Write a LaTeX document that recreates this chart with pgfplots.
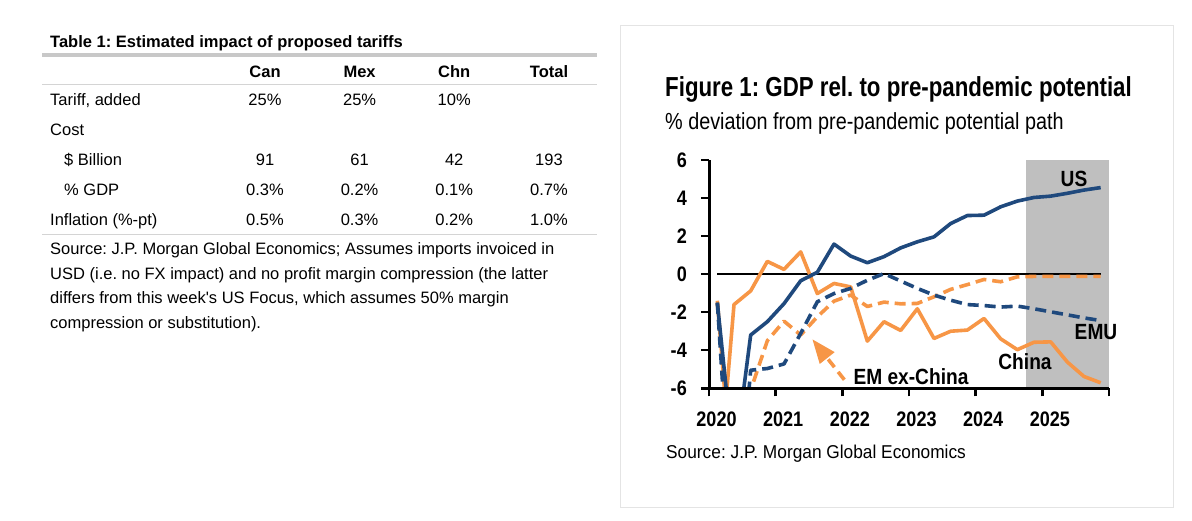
\documentclass[border=0pt]{standalone}
\usepackage{fontspec}
\setmainfont{Liberation Sans}
\newfontfamily\chartfont[FakeStretch=0.93]{Liberation Sans}
\newfontfamily\tickfont[FakeStretch=0.86]{Liberation Sans}
\newfontfamily\labfont[FakeStretch=0.87]{Liberation Sans}
\newfontfamily\titlefont[FakeStretch=0.81]{Liberation Sans}
\newfontfamily\subfont[FakeStretch=0.85]{Liberation Sans}
\usepackage{pgfplots}
\pgfplotsset{compat=1.18}
\usetikzlibrary{arrows.meta}
\definecolor{jpblue}{RGB}{31,73,125}
\definecolor{jporange}{RGB}{247,150,70}
\definecolor{shadegray}{RGB}{191,191,191}
\definecolor{rulegray}{RGB}{200,200,200}
\definecolor{thingray}{RGB}{212,212,212}
\definecolor{boxgray}{RGB}{228,228,228}
\newcommand{\fs}[1]{\fontsize{#1}{#1}\selectfont}
\frenchspacing
\begin{document}
\frenchspacing
\begin{tikzpicture}
\useasboundingbox (0pt,0pt) rectangle (1192pt,-521pt);
\fill[white] (0pt,0pt) rectangle (1192pt,-521pt);
% ---------------- table ----------------
\node[anchor=base west, inner sep=0pt, font=\bfseries\fs{16.5}] at (50pt,-47.3pt) {Table 1: Estimated impact of proposed tariffs};
\draw[rulegray, line width=3.3pt] (42pt,-55pt) -- (597pt,-55pt);
\draw[thingray, line width=1pt] (42pt,-85pt) -- (597pt,-85pt);
\draw[thingray, line width=1pt] (42pt,-235pt) -- (597pt,-235pt);
\begin{scope}[every node/.style={anchor=base, inner sep=0pt, font=\fs{16.5}}]
\node[font=\bfseries\fs{16.5}] at (265pt,-77.3pt) {Can};
\node[font=\bfseries\fs{16.5}] at (359.6pt,-77.3pt) {Mex};
\node[font=\bfseries\fs{16.5}] at (454.2pt,-77.3pt) {Chn};
\node[font=\bfseries\fs{16.5}] at (549pt,-77.3pt) {Total};
\node[anchor=base west] at (50pt,-106pt) {Tariff, added};
\node at (265pt,-106pt) {25\%};
\node at (359.6pt,-106pt) {25\%};
\node at (454.2pt,-106pt) {10\%};
\node[anchor=base west] at (50pt,-136pt) {Cost};
\node[anchor=base west] at (64pt,-166pt) {\$ Billion};
\node at (265pt,-166pt) {91};
\node at (359.6pt,-166pt) {61};
\node at (454.2pt,-166pt) {42};
\node at (549pt,-166pt) {193};
\node[anchor=base west] at (64pt,-196pt) {\% GDP};
\node at (265pt,-196pt) {0.3\%};
\node at (359.6pt,-196pt) {0.2\%};
\node at (454.2pt,-196pt) {0.1\%};
\node at (549pt,-196pt) {0.7\%};
\node[anchor=base west] at (50pt,-226pt) {Inflation (\%-pt)};
\node at (265pt,-226pt) {0.5\%};
\node at (359.6pt,-226pt) {0.3\%};
\node at (454.2pt,-226pt) {0.2\%};
\node at (549pt,-226pt) {1.0\%};
\node[anchor=base west] at (50pt,-254.3pt) {Source: J.P. Morgan Global Economics; Assumes imports invoiced in};
\node[anchor=base west] at (50pt,-279.1pt) {USD (i.e. no FX impact) and no profit margin compression (the latter};
\node[anchor=base west] at (50pt,-303.9pt) {differs from this week\textquotesingle s US Focus, which assumes 50\% margin};
\node[anchor=base west] at (50pt,-328.7pt) {compression or substitution).};
\end{scope}
% ---------------- chart panel ----------------
\draw[boxgray, line width=1pt] (620pt,-25.7pt) rectangle (1173pt,-507pt);
\node[anchor=base west, inner sep=0pt, font=\titlefont\bfseries\fs{27.5}] at (665pt,-96.7pt) {Figure 1: GDP rel. to pre-pandemic potential};
\node[anchor=base west, inner sep=0pt, font=\subfont\fs{23.3}] at (665pt,-130pt) {\% deviation from pre-pandemic potential path};
\node[anchor=base west, inner sep=0pt, font=\chartfont\fs{18.6}] at (666pt,-458.3pt) {Source: J.P. Morgan Global Economics};
\begin{axis}[
  at={(709pt,-388.3pt)}, anchor=south west,
  scale only axis, width=400pt, height=228.3pt,
  xmin=2020, xmax=2026, ymin=-6, ymax=6,
  axis x line*=bottom, axis y line*=left,
  axis line style={line width=3pt, black},
  xtick={2020,2021,2022,2023,2024,2025,2026},
  xticklabels={2020,2021,2022,2023,2024,2025,{}},
  ytick={-6,-4,-2,0,2,4,6},
  yticklabels={-6,-4,-2,0,2,4,6},
  tick align=outside, major tick length=8pt,
  tick style={line width=2.5pt, black},
  /pgf/number format/assume math mode=true,
  ticklabel style={font=\tickfont\bfseries\fs{21}, inner sep=0pt},
  xticklabel style={anchor=north, yshift=-15pt, xshift=7.5pt},
  yticklabel style={anchor=east, xshift=-14pt},
  clip mode=individual, axis on top,
  every axis plot/.append style={line join=round},
]
\addplot[fill=shadegray, draw=none] coordinates {(2024.75,-6) (2026,-6) (2026,6) (2024.75,6)};
\addplot[black, line width=2.5pt] coordinates {(2020.125,0) (2025.875,0)};
% China
\addplot[jporange, line width=3.6pt] coordinates {
(2020.125,-1.4) (2020.25,-6.8) (2020.375,-1.6) (2020.625,-0.88) (2020.875,0.67)
(2021.125,0.25) (2021.375,1.17) (2021.625,-1.02) (2021.875,-0.49) (2022.125,-0.67)
(2022.375,-3.52) (2022.625,-2.5) (2022.875,-2.96) (2023.125,-1.82) (2023.375,-3.38)
(2023.625,-3.0) (2023.875,-2.94) (2024.125,-2.33) (2024.375,-3.4) (2024.625,-3.97)
(2024.875,-3.58) (2025.125,-3.56) (2025.375,-4.62) (2025.625,-5.38) (2025.875,-5.71)};
% EM ex-China
\addplot[jporange, line width=3.6pt, dash pattern=on 11pt off 6pt] coordinates {
(2020.125,-1.5) (2020.375,-12) (2020.625,-6.1) (2020.875,-3.5) (2021.125,-2.47)
(2021.375,-3.2) (2021.625,-2.24) (2021.875,-1.42) (2022.125,-1.1) (2022.375,-1.7)
(2022.625,-1.47) (2022.875,-1.56) (2023.125,-1.54) (2023.375,-1.19) (2023.625,-0.8)
(2023.875,-0.55) (2024.125,-0.28) (2024.375,-0.4) (2024.625,-0.14) (2024.875,-0.12)
(2025.125,-0.12) (2025.375,-0.12) (2025.625,-0.12) (2025.875,-0.12)};
% EMU
\addplot[jpblue, line width=3.6pt, dash pattern=on 11pt off 6pt] coordinates {
(2020.125,-1.5) (2020.375,-15) (2020.625,-5.05) (2020.875,-4.96) (2021.125,-4.72)
(2021.375,-3.12) (2021.625,-1.45) (2021.875,-1.02) (2022.125,-0.75) (2022.375,-0.32)
(2022.625,0.03) (2022.875,-0.36) (2023.125,-0.75) (2023.375,-1.1) (2023.625,-1.37)
(2023.875,-1.6) (2024.125,-1.65) (2024.375,-1.73) (2024.625,-1.68) (2024.875,-1.82)
(2025.125,-1.98) (2025.375,-2.14) (2025.625,-2.3) (2025.875,-2.44)};
% US
\addplot[jpblue, line width=3.6pt] coordinates {
(2020.125,-1.5) (2020.375,-10) (2020.625,-3.2) (2020.875,-2.5) (2021.125,-1.55)
(2021.375,-0.35) (2021.625,0.1) (2021.875,1.58) (2022.125,0.95) (2022.375,0.6)
(2022.625,0.92) (2022.875,1.38) (2023.125,1.7) (2023.375,1.96) (2023.625,2.66)
(2023.875,3.08) (2024.125,3.1) (2024.375,3.54) (2024.625,3.84) (2024.875,4.03)
(2025.125,4.1) (2025.375,4.25) (2025.625,4.42) (2025.875,4.55)};
\draw[jporange, line width=3.6pt, dash pattern=on 10pt off 6pt, -{Triangle[length=24pt,width=18pt]}]
  (axis cs:2022.03,-5.55) -- (axis cs:2021.55,-3.42);
\begin{scope}[every node/.style={inner sep=0pt, font=\labfont\bfseries\fs{22}}]
\node at (axis cs:2025.475,4.99) {US};
\node at (axis cs:2025.805,-3.05) {EMU};
\node at (axis cs:2024.74,-4.62) {China};
\node at (axis cs:2023.03,-5.41) {EM ex-China};
\end{scope}
\end{axis}
\end{tikzpicture}
\end{document}
